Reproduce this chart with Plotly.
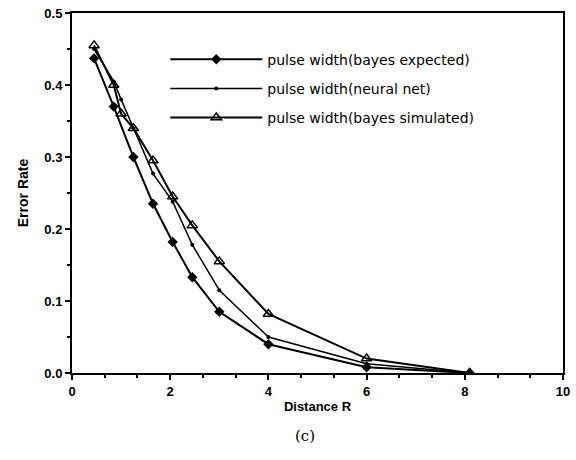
import plotly.graph_objects as go

# Data
x_expected = [0.45, 0.85, 1.25, 1.65, 2.05, 2.45, 3.0, 4.0, 6.0, 8.1]
y_expected = [0.437, 0.370, 0.300, 0.235, 0.182, 0.133, 0.085, 0.040, 0.008, 0.0]

x_neural = [0.45, 0.85, 1.0, 1.25, 1.65, 2.05, 2.45, 3.0, 4.0, 6.0, 8.1]
y_neural = [0.450, 0.405, 0.380, 0.340, 0.277, 0.238, 0.178, 0.115, 0.050, 0.013, 0.0]

x_simulated = [0.45, 0.85, 1.0, 1.25, 1.65, 2.05, 2.45, 3.0, 4.0, 6.0, 8.1]
y_simulated = [0.455, 0.400, 0.360, 0.340, 0.295, 0.245, 0.205, 0.155, 0.082, 0.020, 0.0]

names = ["pulse width(bayes expected)", "pulse width(neural net)", "pulse width(bayes simulated)"]
x_ticks = [0, 2, 4, 6, 8, 10]
y_ticks = [0.0, 0.1, 0.2, 0.3, 0.4, 0.5]

fig = go.Figure()
fig.add_trace(go.Scatter(x=x_expected, y=y_expected, name=names[0], legendgroup="a",
                         mode="lines+markers", line=dict(color="black", width=2),
                         marker=dict(symbol="diamond", size=8, color="black")))
fig.add_trace(go.Scatter(x=x_neural, y=y_neural, name=names[1], legendgroup="b",
                         mode="lines+markers", line=dict(color="black", width=1.5),
                         marker=dict(symbol="circle", size=4, color="black")))
fig.add_trace(go.Scatter(x=x_simulated, y=y_simulated, name=names[2], legendgroup="c",
                         mode="lines+markers", line=dict(color="black", width=2),
                         marker=dict(symbol="triangle-up-open", size=9, color="black",
                                     line=dict(width=1.5, color="black"))))

axis_common = dict(showgrid=False, zeroline=False, showline=True, linecolor="black",
                   linewidth=2, mirror=True, ticks="outside", tickcolor="black",
                   ticklen=5, tickwidth=1.5,
                   tickfont=dict(family="Liberation Sans", size=13, color="black", weight="bold"))

fig.update_xaxes(range=[0, 10], tickvals=x_ticks, ticktext=[str(v) for v in x_ticks],
                 minor=dict(dtick=2/3, ticks="outside", ticklen=3, tickcolor="black"),
                 title=dict(text="Distance R", standoff=4,
                            font=dict(family="Liberation Sans", size=13, color="black", weight="bold")),
                 **axis_common)
fig.update_yaxes(range=[0, 0.5], tickvals=y_ticks, ticktext=[f"{v:.1f}" for v in y_ticks],
                 minor=dict(dtick=0.05, ticks="outside", ticklen=3, tickcolor="black"),
                 title=dict(text="Error Rate", standoff=12,
                            font=dict(family="Liberation Sans", size=14, color="black", weight="bold")),
                 **axis_common)

fig.add_annotation(text="(c)", x=0.475, y=-0.175, xref="paper", yref="paper",
                   showarrow=False, xanchor="center", yanchor="middle",
                   font=dict(family="DejaVu Serif", size=15, color="black"))

fig.update_layout(
    width=576, height=460,
    margin=dict(l=72, r=6, t=12, b=87),
    paper_bgcolor="white", plot_bgcolor="white",
    showlegend=True,
    legend=dict(x=0.19, y=0.915, xanchor="left", yanchor="top",
                bgcolor="rgba(0,0,0,0)", tracegroupgap=8, itemwidth=92,
                font=dict(family="DejaVu Sans", size=14, color="black")),
)

fig.write_html("out.html")
